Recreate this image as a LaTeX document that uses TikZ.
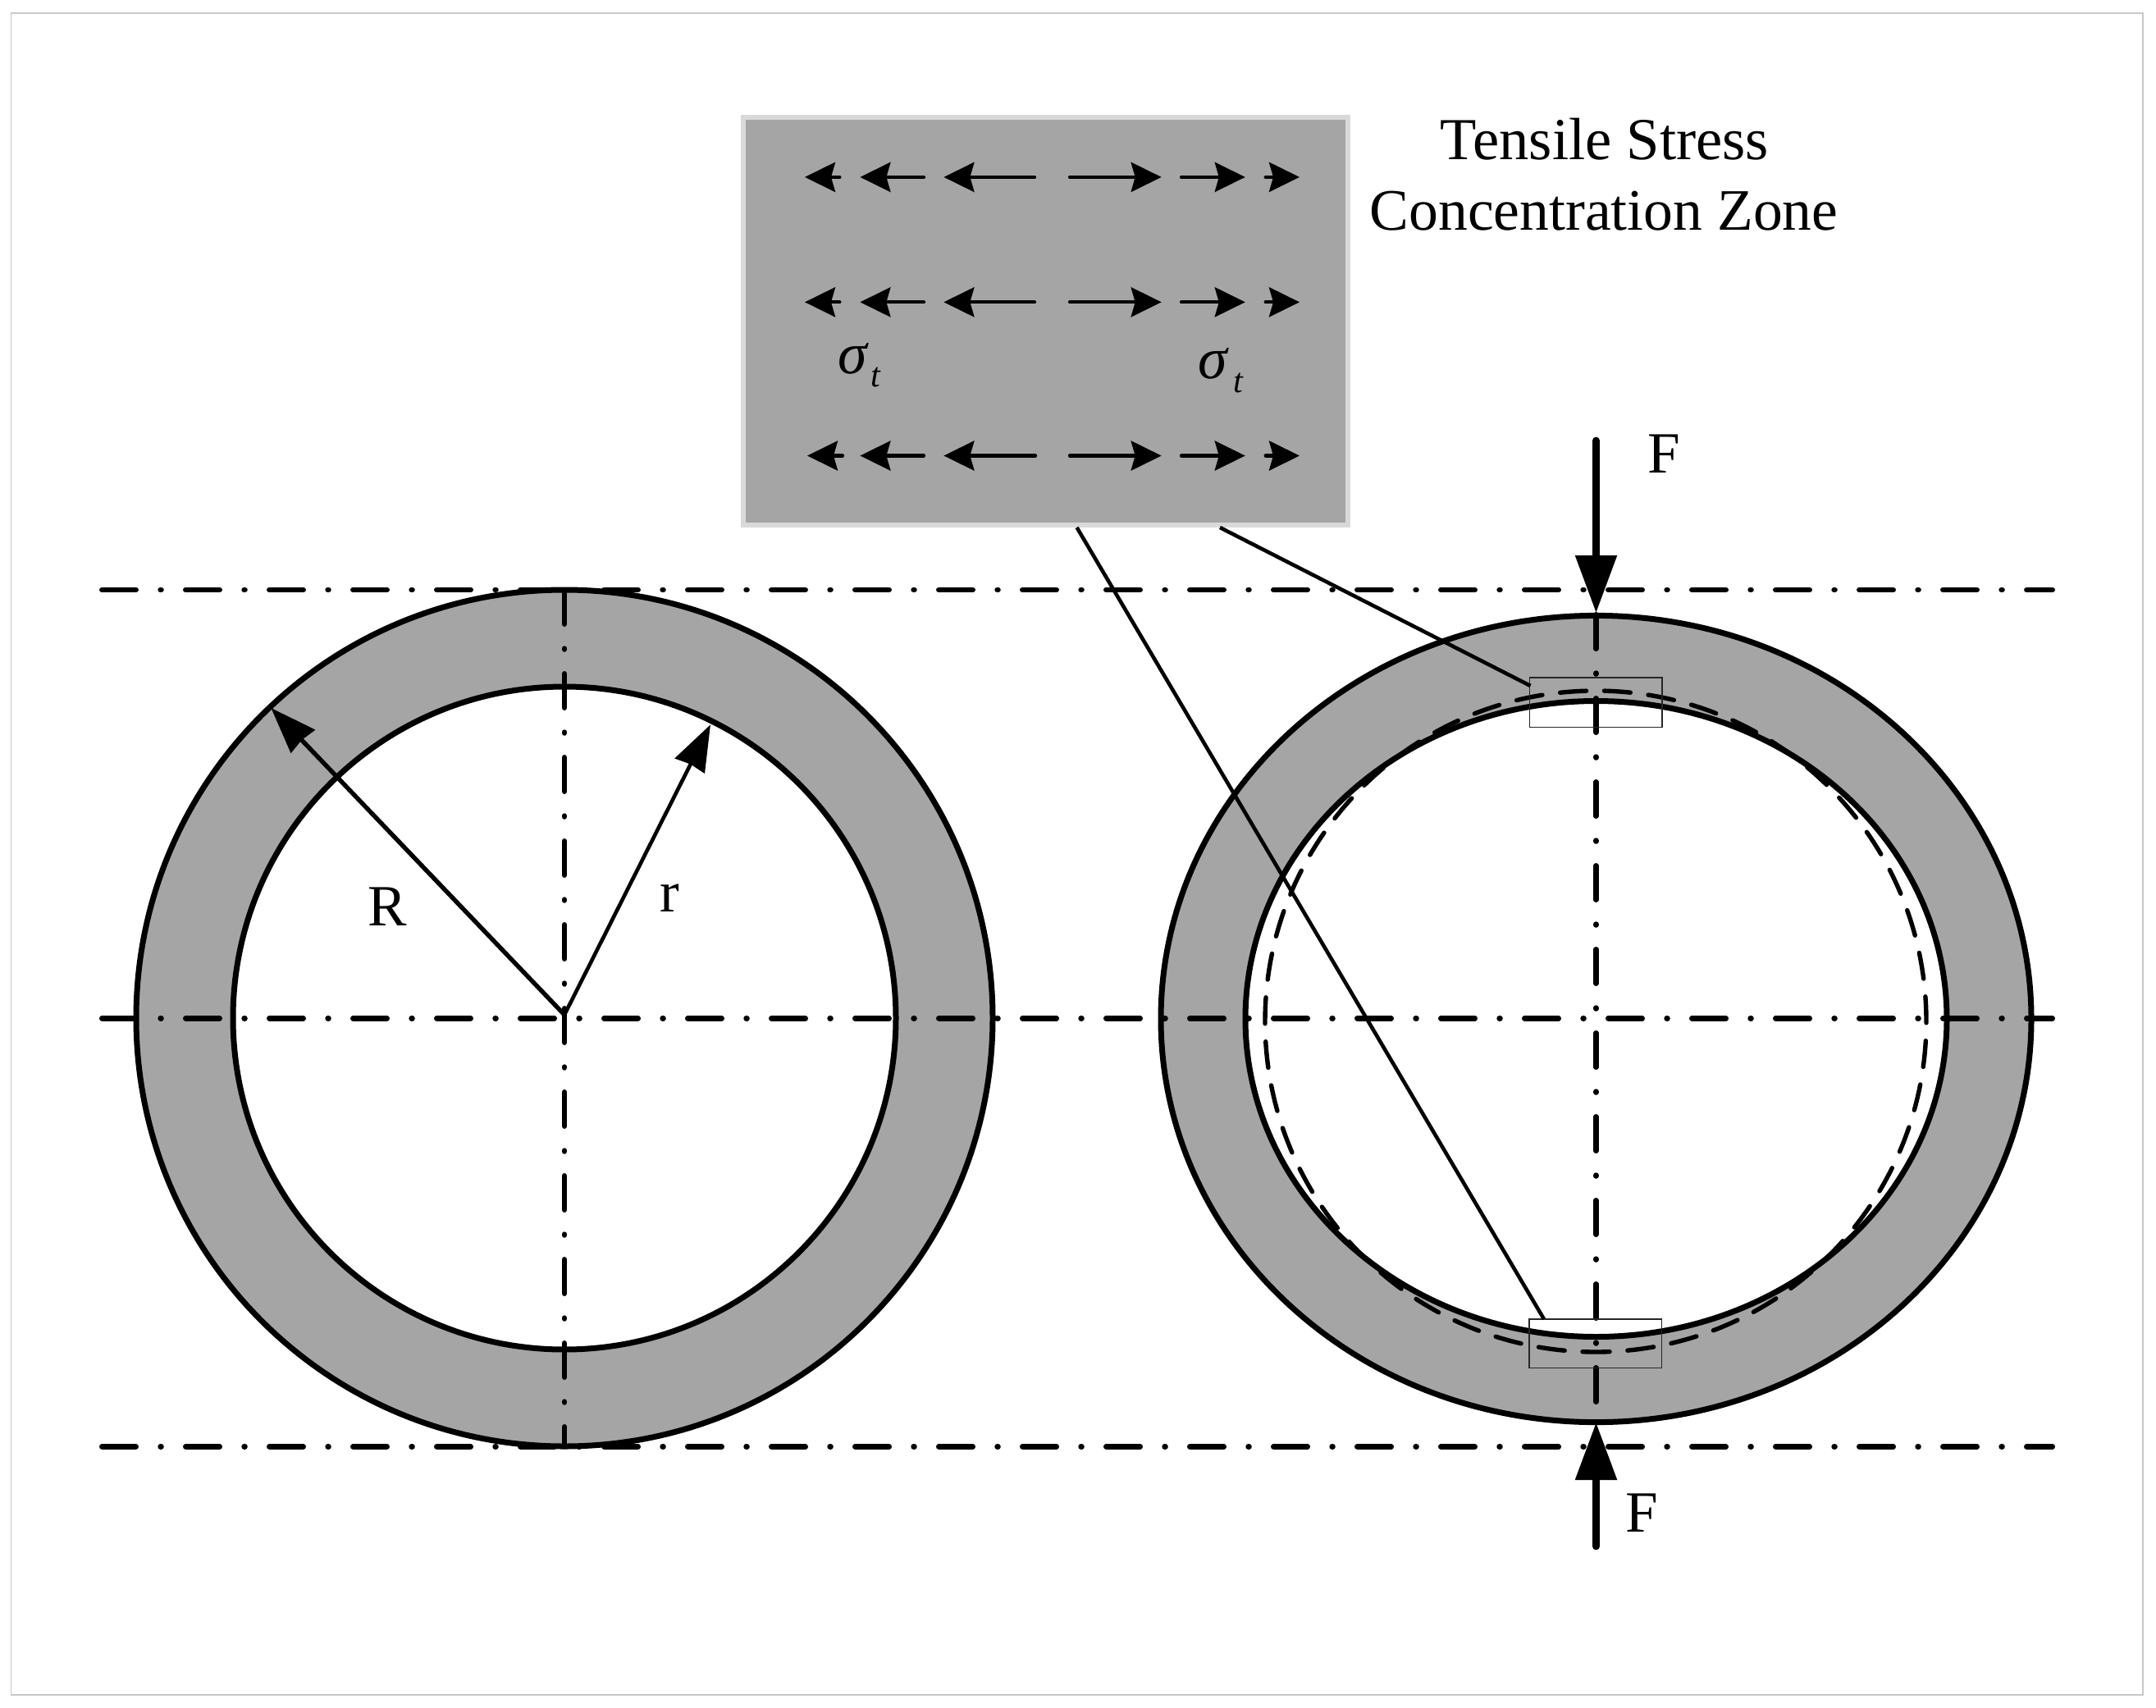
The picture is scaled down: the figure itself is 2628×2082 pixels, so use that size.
\documentclass[tikz,border=0pt]{standalone}
\usepackage{fontspec}
\setmainfont{Liberation Serif}
\usetikzlibrary{arrows.meta}
\definecolor{ringgray}{RGB}{165,165,165}
\definecolor{boxedge}{RGB}{217,217,217}
\definecolor{frameedge}{RGB}{200,200,200}
\tikzset{
  ringline/.style={draw=black,line width=3.5pt},
  axisline/.style={draw=black,line width=3.25pt,line cap=round,
    dash pattern=on 20.75pt off 14.9pt on 0.5pt off 14.85pt},
  deformedline/.style={draw=black,line width=2.7pt,line cap=round,
    dash pattern=on 16pt off 10.93pt,dash phase=8pt},
  leader/.style={draw=black,line width=2.3pt},
  thinrect/.style={draw=black!85,line width=0.65pt},
  stressarrow/.style={draw=black,line width=2.1pt,line cap=round,
    -{Stealth[length=18.5pt,width=18pt,inset=2.5pt]}},
  radiusarrow/.style={draw=black,line width=2.7pt,
    -{Stealth[length=28pt,width=20pt,inset=1pt]}},
  forcearrow/.style={draw=black,line width=4.4pt,line cap=round,
    -{Triangle[length=35pt,width=24.5pt]}},
  bigtext/.style={inner sep=0pt,font=\fontsize{35.6}{43}\selectfont},
  sigmatext/.style={inner sep=0pt,anchor=base west}
}
\newcommand{\sigmasub}[2]{{\fontsize{36}{36}\selectfont\itshape σ}\hspace{#2}\raisebox{#1}{\fontsize{21}{21}\selectfont\itshape t}}
\begin{document}
\begin{tikzpicture}[x=0.5pt,y=-0.5pt]
\useasboundingbox (0,0) rectangle (2628,2082);
\fill[white] (0,0) rectangle (2628,2082);
\draw[frameedge,line width=0.9pt] (13.5,16) rectangle (2612,2066);

% left ring
\fill[ringgray] (688,1241) circle [radius=522];
\fill[white] (688,1241) circle [radius=404];
\draw[ringline] (688,1241) circle [radius=522];
\draw[ringline] (688,1241) circle [radius=404];

% right ring
\fill[ringgray] (1945.5,1242) ellipse [x radius=530.5,y radius=491.6];
\fill[white] (1945.5,1242) ellipse [x radius=427.5,y radius=387.5];
\draw[ringline] (1945.5,1242) ellipse [x radius=530.5,y radius=491.6];
\draw[ringline] (1945.5,1242) ellipse [x radius=427.5,y radius=387.5];

% axes
\draw[axisline] (124.25,719) -- (2501.75,719);
\draw[axisline] (124.25,1241.3) -- (2501.75,1241.3);
\draw[axisline] (124.25,1763.3) -- (2501.75,1763.3);
\draw[axisline] (688,719.25) -- (688,1763);
\draw[axisline] (1945.5,749.25) -- (1945.5,1733);

% deformed reference circle
\draw[deformedline] (1945,1648) arc [start angle=90,delta angle=360,radius=403];

% zones on the right ring
\node[thinrect,rectangle,minimum width=80.75pt,minimum height=30.35pt,inner sep=0pt] (topzone) at (1945.25,856.35) {};
\node[thinrect,rectangle,minimum width=80.75pt,minimum height=29.85pt,inner sep=0pt] (bottomzone) at (1944.7,1637.85) {};

% enlarged zone
\node[rectangle,draw=boxedge,fill=ringgray,line width=3pt,inner sep=0pt,
      minimum width=368.35pt,minimum height=248.5pt] (zone) at (1274.6,391.5) {};
\foreach \y/\a/\b/\c in {215.9/981/1023.4/1261,368.3/981/1023.4/1261,555.5/984/1027/1262}{
  \draw[stressarrow] (\b,\y) -- (\a,\y);
  \draw[stressarrow] (1126,\y) -- (1048.4,\y);
  \draw[stressarrow] (\c,\y) -- (1150.4,\y);
  \draw[stressarrow] (1304,\y) -- (1415.7,\y);
  \draw[stressarrow] (1440,\y) -- (1517.8,\y);
  \draw[stressarrow] (1542.7,\y) -- (1584,\y);
}
\node[sigmatext] (sigmaleft) at (1021,455) {\sigmasub{-8.3pt}{2.5pt}};
\node[sigmatext] (sigmaright) at (1460.5,461) {\sigmasub{-8.8pt}{3.5pt}};

% leaders from the enlarged zone to the rectangles
\coordinate (zoneA) at (1487,643);
\coordinate (zoneB) at (1312.6,643);
\coordinate (topend) at (1865.5,836);
\coordinate (bottomend) at (1882,1608);
\draw[leader] (zoneA) -- (topend);
\draw[leader] (zoneB) -- (bottomend);

% radii
\coordinate (hub) at (688,1237);
\coordinate (Rtip) at (330.4,863);
\coordinate (rtip) at (866,883.3);
\draw[radiusarrow] (hub) -- (Rtip);
\draw[radiusarrow,line width=2.3pt] (hub) -- (rtip);

% forces
\coordinate (ftoptail) at (1945.5,537);
\coordinate (ftoptip) at (1945.5,747);
\coordinate (fbottail) at (1945.5,1885);
\coordinate (fbottip) at (1945.5,1734);
\draw[forcearrow] (ftoptail) -- (ftoptip);
\draw[forcearrow] (fbottail) -- (fbottip);

% labels
\node[bigtext,anchor=base,font=\fontsize{36.3}{43}\selectfont] (title1) at (1956,194.6) {Tensile Stress};
\node[bigtext,anchor=base,font=\fontsize{35.8}{43}\selectfont] (title2) at (1955,280.8) {Concentration Zone};
\node[bigtext,anchor=base west] (ftop) at (2008,576.8) {F};
\node[bigtext,anchor=base west] (fbot) at (1981.5,1867.7) {F};
\node[bigtext,anchor=base west] (Rlabel) at (448.5,1128) {R};
\node[bigtext,anchor=base west] (rlabel) at (804,1111.7) {r};
\end{tikzpicture}
\end{document}
